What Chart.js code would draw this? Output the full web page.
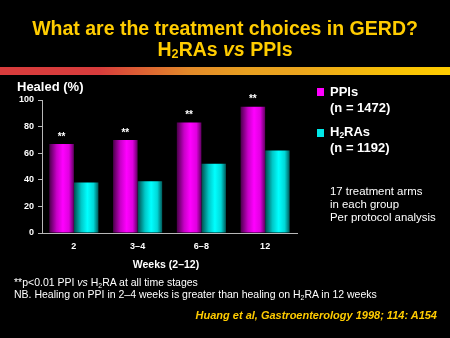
<!DOCTYPE html>
<html lang="en">
<head>
<meta charset="UTF-8">
<title>H2RAs vs PPIs</title>
<script src="https://cdn.jsdelivr.net/npm/chart.js"></script>
<style>
  html, body { margin: 0; padding: 0; background: #000; }
  .slide { position: relative; width: 450px; height: 338px; overflow: hidden; background: #000;
           font-family: Arial, "Liberation Sans", sans-serif; color: #fff; }
  .slide div { position: absolute; white-space: nowrap; }
  #chart { position: absolute; left: 0; top: 0; }
  .title { left: 0; width: 450px; text-align: center; color: #ffcc00; font-weight: bold;
           font-size: 19.5px; line-height: 21px; }
  .stripe { left: 0; top: 67px; width: 450px; height: 8px;
            background: linear-gradient(to right, #d83c3c 0%, #d83c3c 22%, #e38a2a 42%, #e8a020 55%, #eba51e 66%, #f8c206 88%, #ffcc00 100%); }
  .ylab { left: 17px; top: 79px; font-size: 13px; font-weight: bold; }
  .sq { width: 7px; height: 8px; }
  .leg { left: 330px; font-size: 13px; font-weight: bold; line-height: 16px; }
  .note { left: 330px; font-size: 11.4px; line-height: 13px; }
  .xlab { left: 0; width: 332px; text-align: center; top: 258px; font-size: 10.5px; font-weight: bold; }
  .foot { left: 14px; font-size: 10.5px; line-height: 12px; top: 276px; }
  .cite { right: 13px; top: 309px; color: #ffcc00; font-weight: bold; font-style: italic; font-size: 11px; }
  sub { font-size: 65%; vertical-align: -2px; line-height: 0; }
</style>
</head>
<body>
<div class="slide">
  <canvas id="chart" width="450" height="338"></canvas>
  <div class="title" style="top:18px">What are the treatment choices in GERD?</div>
  <div class="title" style="top:39px">H<sub>2</sub>RAs <i>vs</i> PPIs</div>
  <div class="stripe"></div>
  <div class="ylab">Healed (%)</div>

  <div class="sq" style="left:317px; top:88px; background:#ff00ff"></div>
  <div class="leg" style="top:84px">PPIs<br>(n = 1472)</div>
  <div class="sq" style="left:317px; top:129px; background:#00e8e8"></div>
  <div class="leg" style="top:124px">H<sub>2</sub>RAs<br>(n = 1192)</div>
  <div class="note" style="top:185px">17 treatment arms<br>in each group<br>Per protocol analysis</div>

  <div class="xlab">Weeks (2–12)</div>
  <div class="foot">**p&lt;0.01 PPI <i>vs</i> H<sub>2</sub>RA at all time stages<br>NB. Healing on PPI in 2–4 weeks is greater than healing on H<sub>2</sub>RA in 12 weeks</div>
  <div class="cite">Huang et al, Gastroenterology 1998; 114: A154</div>
</div>

<script>
  const weeks = ['2', '3–4', '6–8', '12'];
  const ppiHealed = [67, 70, 83, 95];
  const h2raHealed = [38, 39, 52, 62];
  const yTicks = [0, 20, 40, 60, 80, 100];
  const starLabels = ['**', '**', '**', '**'];

  const catPct = 0.77;
  const magentaStops = ['#4a004a', '#c800c8', '#ff00ff', '#e000e0', '#600060'];
  const cyanStops = ['#004c4c', '#00c8c8', '#00ffff', '#00d8d8', '#005a5a'];

  // horizontal shading per bar, like a cylinder
  function barFill(context, stops) {
    const chart = context.chart;
    const xs = chart.scales.x;
    if (!chart.chartArea || !xs) return stops[2];
    const c = xs.getPixelForValue(context.dataIndex);
    const w = xs.width / weeks.length * catPct / 2;
    const left = context.datasetIndex === 0 ? c - w : c;
    const g = chart.ctx.createLinearGradient(left, 0, left + w, 0);
    g.addColorStop(0, stops[0]);
    g.addColorStop(0.3, stops[1]);
    g.addColorStop(0.55, stops[2]);
    g.addColorStop(0.8, stops[3]);
    g.addColorStop(1, stops[4]);
    return g;
  }

  const starPlugin = {
    id: 'stars',
    afterDatasetsDraw(chart) {
      const meta = chart.getDatasetMeta(0);
      const ctx = chart.ctx;
      ctx.save();
      ctx.fillStyle = '#fff';
      ctx.font = 'bold 10px Arial, "Liberation Sans", sans-serif';
      ctx.textAlign = 'center';
      ctx.textBaseline = 'bottom';
      meta.data.forEach((bar, i) => {
        ctx.fillText(starLabels[i], bar.x, bar.y - 2);
      });
      ctx.restore();
    }
  };

  const tickFont = { family: 'Arial, "Liberation Sans", sans-serif', size: 9, weight: 'bold' };

  new Chart(document.getElementById('chart'), {
    type: 'bar',
    data: {
      labels: weeks,
      datasets: [
        { label: 'PPIs', data: ppiHealed, backgroundColor: c => barFill(c, magentaStops) },
        { label: 'H2RAs', data: h2raHealed, backgroundColor: c => barFill(c, cyanStops) }
      ]
    },
    options: {
      responsive: false,
      animation: false,
      layout: { padding: { left: 0, right: 153, top: 100, bottom: 83 } },
      datasets: { bar: { categoryPercentage: catPct, barPercentage: 1, borderWidth: 0 } },
      plugins: { legend: { display: false }, tooltip: { enabled: false }, title: { display: false } },
      scales: {
        x: {
          grid: { display: false, drawTicks: false },
          border: { color: '#b8b8b8', width: 1 },
          afterFit: s => { s.height = 22; },
          ticks: { color: '#fff', padding: 8, font: tickFont }
        },
        y: {
          min: 0, max: 100,
          afterFit: s => { s.width = 42; },
          afterBuildTicks: s => { s.ticks = yTicks.map(v => ({ value: v })); },
          grid: { drawOnChartArea: false, drawTicks: true, tickLength: 4, color: '#b8b8b8' },
          border: { color: '#b8b8b8', width: 1 },
          ticks: { color: '#fff', padding: 4, font: tickFont }
        }
      }
    },
    plugins: [starPlugin]
  });
</script>
</body>
</html>
